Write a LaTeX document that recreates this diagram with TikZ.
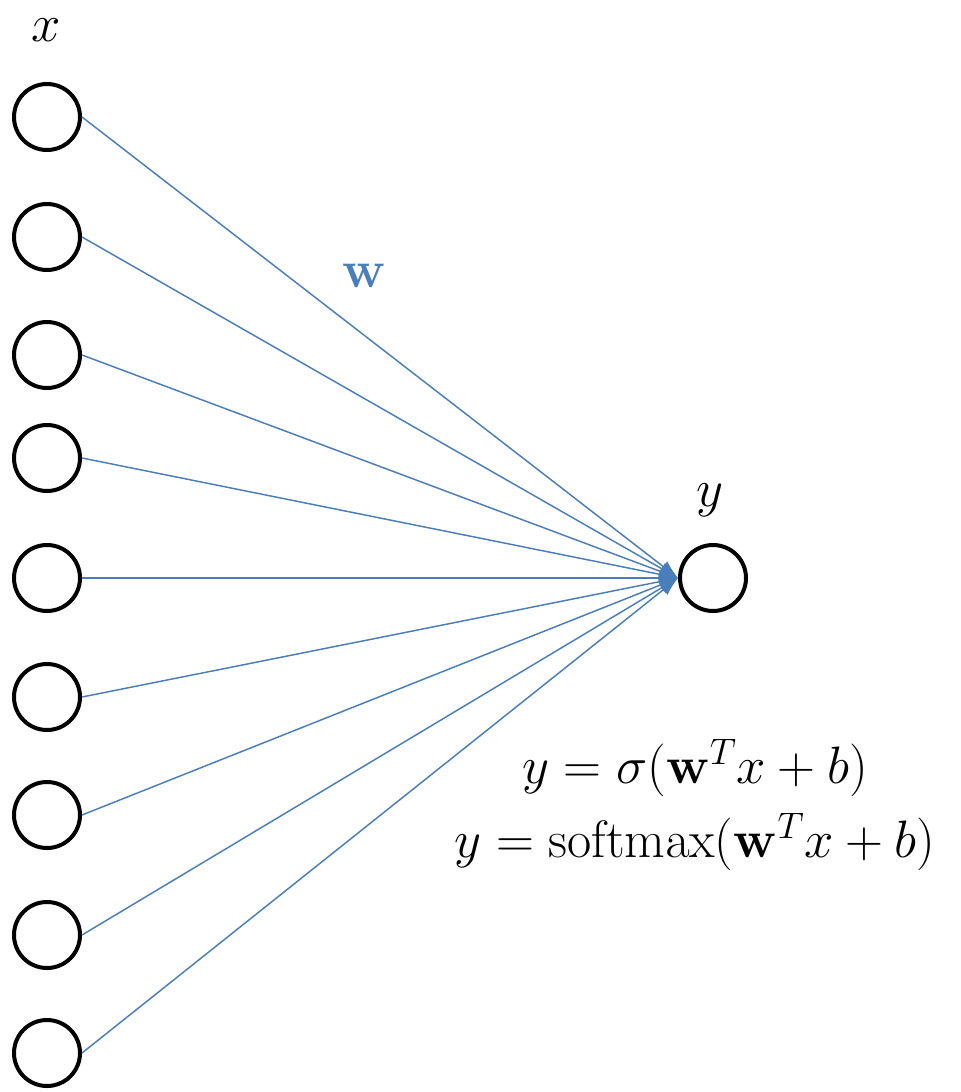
\RequirePackage{fix-cm}
\documentclass[tikz,border=0pt]{standalone}
\usepackage{amsmath}
\usetikzlibrary{positioning,arrows.meta}
\definecolor{wblue}{RGB}{74,126,187}

\begin{document}
\begin{tikzpicture}[x=0.75pt,y=-0.75pt,
  neuron/.style={circle, draw, line width=3pt, minimum size=49.5pt, inner sep=0pt},
  wire/.style={wblue, line width=1.1pt, -{Latex[length=14pt,width=10pt]}},
  lbl/.style={font=\fontsize{39.5}{56}\selectfont, inner sep=0pt}]

\useasboundingbox (0,0) rectangle (960,1092);

% input layer
\node (x1) [neuron] at (47,117) {};
\node (x2) [neuron] at (47,237) {};
\node (x3) [neuron] at (47,355) {};
\node (x4) [neuron] at (47,458) {};
\node (x5) [neuron] at (47,578) {};
\node (x6) [neuron] at (47,697) {};
\node (x7) [neuron] at (47,815) {};
\node (x8) [neuron] at (47,935) {};
\node (x9) [neuron] at (47,1053) {};

% output
\node (y) [neuron] at (713,578) {};

\node (xlab) [lbl] at (46,30) {$x$};
\node (ylab) [lbl] at (710,500) {$y$};
\node (wlab) [lbl, text=wblue] at (364,276) {$\mathbf{w}$};

\node (eqs) [lbl, align=center] at (695,805)
{$y=\sigma(\mathbf{w}^T x+b)$ \\ $y=\mathrm{softmax}(\mathbf{w}^T x+b)$};

\draw[wire] (x1.east) -- (y.west);
\draw[wire] (x2.east) -- (y.west);
\draw[wire] (x3.east) -- (y.west);
\draw[wire] (x4.east) -- (y.west);
\draw[wire] (x5.east) -- (y.west);
\draw[wire] (x6.east) -- (y.west);
\draw[wire] (x7.east) -- (y.west);
\draw[wire] (x8.east) -- (y.west);
\draw[wire] (x9.east) -- (y.west);

\end{tikzpicture}
\end{document}
